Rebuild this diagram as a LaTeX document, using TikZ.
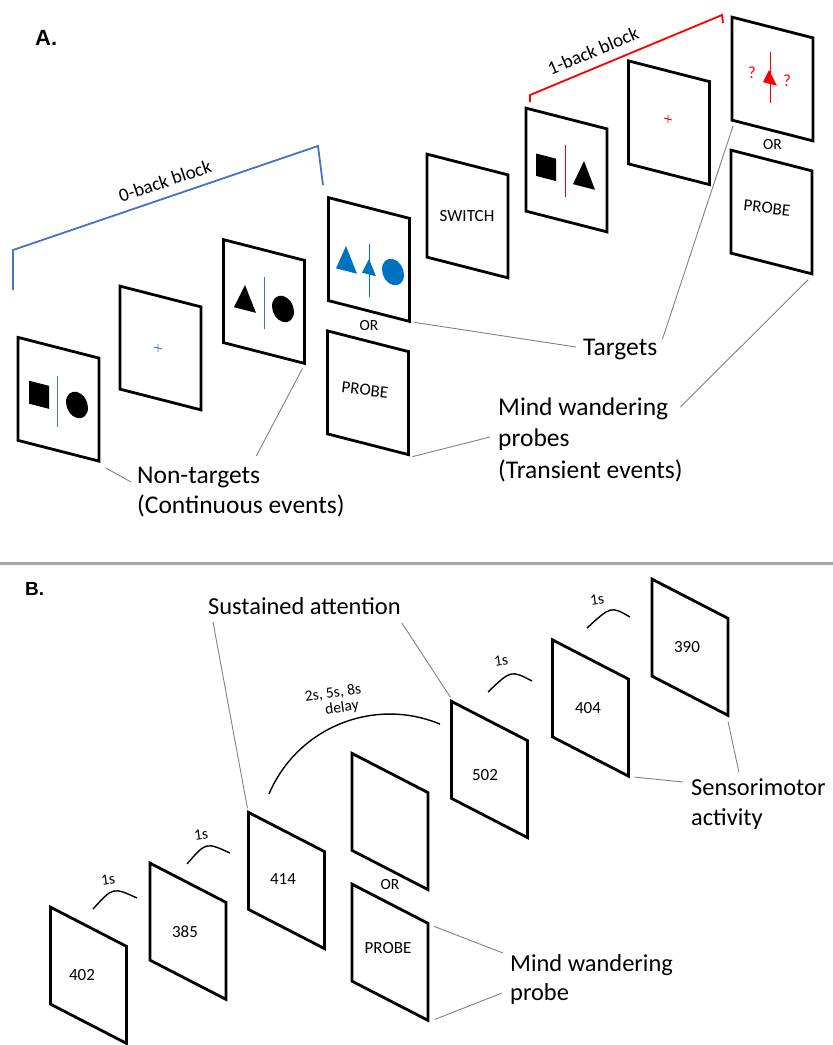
\documentclass[tikz,border=0pt]{standalone}
\usepackage{fontspec}
\setmainfont{Carlito}
\newfontfamily\arialfont{Liberation Sans}
\usepackage{tikz}
\usetikzlibrary{positioning,calc}
\definecolor{lineblue}{HTML}{4472C4}
\definecolor{shapeblue}{HTML}{0070C0}
\definecolor{conngray}{HTML}{808080}
\definecolor{rulegray}{HTML}{A6A6A6}
\definecolor{redmark}{HTML}{FF0000}

\begin{document}
\begin{tikzpicture}[
			x=1pt,y=-1pt,
			screen/.style={rectangle,draw,line width=2.8pt,inner sep=0pt,outer sep=0pt,minimum width=81pt,minimum height=103pt,yslant=-0.256},
			screenb/.style={screen,minimum width=76pt,minimum height=97pt,yslant=-0.26},
			head/.style={inner sep=0pt,anchor=base west,font=\arialfont\bfseries\fontsize{22pt}{24pt}\selectfont},
			lbl/.style={inner sep=0pt,anchor=base west,font=\fontsize{25.5pt}{31pt}\selectfont},
			lblb/.style={lbl,font=\fontsize{24.4pt}{30pt}\selectfont},
			small/.style={inner sep=0pt,font=\fontsize{17pt}{19pt}\selectfont},
			ortext/.style={inner sep=0pt,font=\fontsize{15.5pt}{18pt}\selectfont},
			dur/.style={inner sep=0pt,rotate=8,font=\fontsize{15.5pt}{18pt}\selectfont},
			blocktext/.style={inner sep=0pt,font=\fontsize{19pt}{22pt}\selectfont},
			qmark/.style={inner sep=0pt,text=redmark,font=\fontsize{17pt}{19pt}\selectfont},
			conn/.style={draw=conngray,line width=0.9pt},
			timearc/.style={draw,line width=1.4pt},
			]
			\useasboundingbox (0,0) rectangle (833,1045);
			\node [head] (pa) at (35,45) {A.};
			\node [screen] (a1) at (58.5,399.25) {};
			\node [screen] (a2) at (160.5,348) {};
			\node [screen] (a3) at (264,301.5) {};
			\node [screen] (a4) at (369,259.5) {};
			\node [screen] (a5) at (368,392.75) {};
			\node [screen] (a6) at (467.5,216) {};
			\node [screen] (a7) at (566.5,170) {};
			\node [screen] (a8) at (669,122.75) {};
			\node [screen] (a9) at (772.5,79) {};
			\node [screen] (a10) at (771.5,212) {};
			\begin{scope}[shift={(a1.center)},yslant=-0.256]
				\fill (-29.5,-11) rectangle (-9.5,12);
				\draw [lineblue,line width=1pt] (-1.5,-23) -- (-1.5,28);
				\fill (18.5,1) ellipse [x radius=11,y radius=13];
			\end{scope}
			\begin{scope}[shift={(a2.center)},yslant=-0.256]
				\draw [lineblue,line width=0.9pt] (-6.5,0.6) -- (1.5,0.6) (-2.5,-3.4) -- (-2.5,4.6);
			\end{scope}
			\begin{scope}[shift={(a3.center)},yslant=-0.256]
				\fill (-19,-11.6) -- (-30,13.4) -- (-8,13.4) -- cycle;
				\draw [lineblue,line width=1pt] (0,-24.5) -- (0,27.5);
				\fill (19,2.6) ellipse [x radius=11,y radius=13];
			\end{scope}
			\begin{scope}[shift={(a4.center)},yslant=-0.256]
				\fill [shapeblue] (-23,-7.6) -- (-33,17.3) -- (-12,17.3) -- cycle;
				\fill [shapeblue] (0,-0.5) -- (-7,15) -- (7,15) -- cycle;
				\draw [shapeblue,line width=1pt] (0,-15.5) -- (0,37.5);
				\fill [shapeblue] (24,6.4) ellipse [x radius=11,y radius=13];
			\end{scope}
			\begin{scope}[shift={(a7.center)},yslant=-0.256]
				\fill (-30.5,-8.7) rectangle (-10.5,13.7);
				\draw [redmark,line width=1pt] (-1.5,-24.6) -- (-1.5,27.4);
				\fill (17.5,-13.5) -- (6.5,12.5) -- (28.5,12.5) -- cycle;
			\end{scope}
			\begin{scope}[shift={(a8.center)},yslant=-0.256]
				\draw [redmark,line width=0.9pt] (-5,-3.5) -- (3,-3.5) (-1,-7.5) -- (-1,0.5);
			\end{scope}
			\begin{scope}[shift={(a9.center)},yslant=-0.256]
				\draw [redmark,line width=1pt] (-2.5,-26.4) -- (-2.5,24.6);
				\fill [redmark] (-3.5,-8.1) -- (-9.5,5.6) -- (4.5,5.6) -- cycle;
				\node [qmark] (q1) at (-20.5,-1) {?};
				\node [qmark] (q2) at (14.5,-1.5) {?};
			\end{scope}
			\node [small] (sw) at (467,216) {SWITCH};
			\node [small,rotate=-6] (pr1) at (365,390) {PROBE};
			\node [small,rotate=-6] (pr2) at (767,208) {PROBE};
			\node [ortext,below=9pt of a4.south] (or1) {OR};
			\node [ortext,below=9pt of a9.south] (or2) {OR};
			\draw [lineblue,line width=1.8pt] (13,290) -- (13,250) -- (318,146) -- (323,185);
			\node [blocktext,rotate=18.8] (blk0) at (165,181) {0-back block};
			\draw [redmark,line width=1.8pt] (530,102) -- (530,95) -- (722,15) -- (723,23);
			\node [blocktext,rotate=22.6] (blk1) at (593,51) {1-back block};
			\node [lbl] (nt1) at (137,483) {Non-targets};
			\node [lbl] (nt2) at (137,513) {(Continuous events)};
			\node [lbl] (tg) at (583,355) {Targets};
			\node [lbl] (mw1) at (498,415) {Mind wandering};
			\node [lbl] (mw2) at (498,446) {probes};
			\node [lbl] (mw3) at (498,478) {(Transient events)};
			\draw [conn] ([shift={(7,7)}]a1.south east) -- ([shift={(-6,-1)}]nt1.base west);
			\draw [conn] ([shift={(-4,-10.6)}]nt1.north east) -- ([shift={(-2,5)}]a3.south east);
			\draw [conn] ([shift={(5,1)}]a4.south east) -- ([shift={(-7,-8)}]tg.base west);
			\draw [conn] ([shift={(5,0.5)}]tg.north east) -- ([shift={(1,6)}]a9.south west);
			\draw [conn] ([shift={(4,2)}]a5.south east) -- ([shift={(-8,-9)}]mw2.base west);
			\draw [conn] ([shift={(12,-8)}]mw1.base east) -- ([shift={(-4,6)}]a10.south east);
			\draw [rulegray,line width=3pt] (0,563) -- (833,563);
			\node [head,font=\arialfont\bfseries\fontsize{19pt}{22pt}\selectfont] (pb) at (25,595) {B.};
			\node [screenb] (b1) at (88.5,975.25) {};
			\node [screenb] (b2) at (188,931.25) {};
			\node [screenb] (b3) at (286.5,880.5) {};
			\node [screenb] (b4) at (390,821.5) {};
			\node [screenb] (b5) at (390,952.25) {};
			\node [screenb] (b6) at (489.5,769.5) {};
			\node [screenb] (b7) at (590.5,708) {};
			\node [screenb] (b8) at (690,647.25) {};
			\node [small] (n1) at (82,975) {402};
			\node [small] (n2) at (185,932) {385};
			\node [small] (n3) at (283,879) {414};
			\node [small] (n4) at (388,948) {PROBE};
			\node [small] (n5) at (485,775) {502};
			\node [small] (n6) at (588,708) {404};
			\node [small] (n7) at (687,647) {390};
			\node [ortext,below=9pt of b4.south] (or3) {OR};
			\draw [timearc] (93,909) .. controls (113,887) .. (137,898);
			\node [dur] (d1) at (108,880) {1s};
			\draw [timearc] (187,864) .. controls (206,842) .. (230,853);
			\node [dur] (d2) at (201,835) {1s};
			\draw [timearc] (269,794) arc [start angle=203,end angle=292.5,radius=131.2];
			\node [dur] (d3) at (333,693) {2s, 5s, 8s};
			\node [dur] (d4) at (342,708) {delay};
			\draw [timearc] (488,692) .. controls (511,670) .. (532,681);
			\node [dur] (d5) at (501,661) {1s};
			\draw [timearc] (587,628) .. controls (611,606) .. (630,617);
			\node [dur] (d6) at (597,600) {1s};
			\node [lblb] (sa) at (208,614) {Sustained attention};
			\node [lblb] (sm1) at (691,795) {Sensorimotor};
			\node [lblb] (sm2) at (691,825) {activity};
			\node [lblb] (mb1) at (510,971) {Mind wandering};
			\node [lblb] (mb2) at (510,1000) {probe};
			\draw [conn] ([shift={(5,8)}]sa.base west) -- ([shift={(-1,-4)}]b3.north west);
			\draw [conn] ([shift={(1,9)}]sa.base east) -- ([shift={(-1,-4)}]b6.north west);
			\draw [conn] ([shift={(6,3)}]b5.north east) -- ([shift={(-7,-18)}]mb1.base west);
			\draw [conn] ([shift={(7,-1)}]b5.south east) -- ([shift={(-8,-7)}]mb2.base west);
			\draw [conn] ([shift={(6,1)}]b7.south east) -- ([shift={(-8,-13)}]sm1.base west);
			\draw [conn] ([shift={(0,6)}]b8.south east) -- ([shift={(-19.5,-6)}]sm1.north);
		\end{tikzpicture}
\end{document}
